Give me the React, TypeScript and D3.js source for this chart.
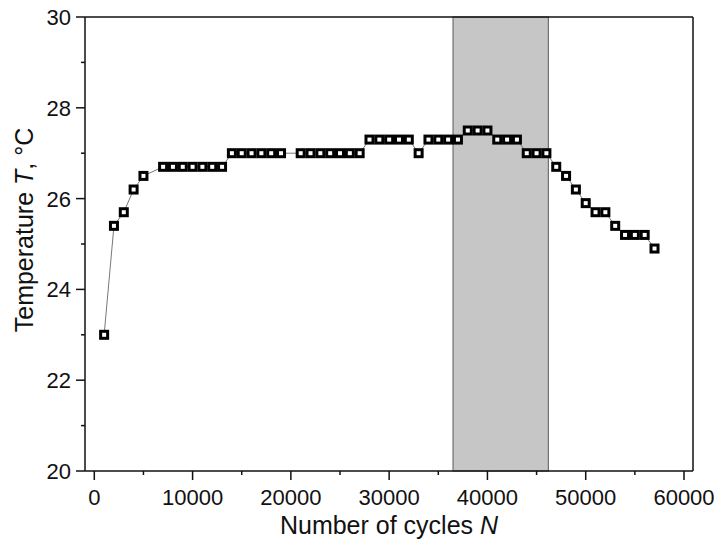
import React from "react";
import * as d3 from "d3";

const cycles: number[] = [
  1000, 2000, 3000, 4000, 5000,
  7000, 8000, 9000, 10000, 11000, 12000, 13000,
  14000, 15000, 16000, 17000, 18000, 19000,
  21000, 22000, 23000, 24000, 25000, 26000, 27000,
  28000, 29000, 30000, 31000, 32000,
  33000,
  34000, 35000, 36000, 37000,
  38000, 39000, 40000,
  41000, 42000, 43000,
  44000, 45000, 46000,
  47000, 48000, 49000, 50000, 51000, 52000, 53000,
  54000, 55000, 56000, 57000,
];
const temperature: number[] = [
  23.0, 25.4, 25.7, 26.2, 26.5,
  26.7, 26.7, 26.7, 26.7, 26.7, 26.7, 26.7,
  27.0, 27.0, 27.0, 27.0, 27.0, 27.0,
  27.0, 27.0, 27.0, 27.0, 27.0, 27.0, 27.0,
  27.3, 27.3, 27.3, 27.3, 27.3,
  27.0,
  27.3, 27.3, 27.3, 27.3,
  27.5, 27.5, 27.5,
  27.3, 27.3, 27.3,
  27.0, 27.0, 27.0,
  26.7, 26.5, 26.2, 25.9, 25.7, 25.7, 25.4,
  25.2, 25.2, 25.2, 24.9,
];
const shadedRange: [number, number] = [36500, 46200];
const xTicks: number[] = [0, 10000, 20000, 30000, 40000, 50000, 60000];
const xMinorTicks: number[] = [5000, 15000, 25000, 35000, 45000, 55000];
const yTicks: number[] = [20, 22, 24, 26, 28, 30];
const yMinorTicks: number[] = [21, 23, 25, 27, 29];

const W = 717;
const H = 554;
const left = 85;
const right = 693;
const top = 17;
const bottom = 471;
const font = "Arial, 'Liberation Sans', sans-serif";

export default function App() {
  const x = d3.scaleLinear().domain([0, 60000]).range([94.3, 684]);
  const y = d3.scaleLinear().domain([20, 30]).range([bottom, top]);
  const data = cycles.map((c, i) => ({ c, t: temperature[i] }));
  const line = d3
    .line<{ c: number; t: number }>()
    .x((d) => x(d.c))
    .y((d) => y(d.t));

  return (
    <svg
      width={W}
      height={H}
      style={{ position: "absolute", left: 0, top: 0, background: "#fff" }}
      fontFamily={font}
    >
      <rect x={0} y={0} width={W} height={H} fill="#fff" />
      <rect
        x={x(shadedRange[0])}
        y={top}
        width={x(shadedRange[1]) - x(shadedRange[0])}
        height={bottom - top}
        fill="#c6c6c6"
        stroke="#707070"
        strokeWidth={1.2}
      />
      {/* frame */}
      <line x1={left} x2={right} y1={top} y2={top} stroke="#111" strokeWidth={1.5} />
      <line x1={right} x2={right} y1={top} y2={bottom} stroke="#111" strokeWidth={1.5} />
      <line x1={left} x2={left} y1={top} y2={bottom} stroke="#111" strokeWidth={1.5} />
      <line x1={left} x2={right} y1={bottom} y2={bottom} stroke="#111" strokeWidth={1.5} />
      {/* y ticks */}
      {yTicks.map((t) => (
        <g key={"yt" + t}>
          <line x1={left - 9} x2={left} y1={y(t)} y2={y(t)} stroke="#111" strokeWidth={1.5} />
          <text x={left - 14} y={y(t)} dy="0.36em" textAnchor="end" fontSize={22} fill="#111">
            {t}
          </text>
        </g>
      ))}
      {yMinorTicks.map((t) => (
        <line key={"ym" + t} x1={left - 4} x2={left} y1={y(t)} y2={y(t)} stroke="#111" strokeWidth={1.5} />
      ))}
      {/* x ticks */}
      {xTicks.map((t) => (
        <g key={"xt" + t}>
          <line x1={x(t)} x2={x(t)} y1={bottom} y2={bottom + 9} stroke="#111" strokeWidth={1.5} />
          <text x={x(t)} y={bottom + 26} dy="0.36em" textAnchor="middle" fontSize={22} fill="#111">
            {t}
          </text>
        </g>
      ))}
      {xMinorTicks.map((t) => (
        <line key={"xm" + t} x1={x(t)} x2={x(t)} y1={bottom} y2={bottom + 4} stroke="#111" strokeWidth={1.5} />
      ))}
      {/* axis titles */}
      <text
        x={(left + right) / 2}
        y={534}
        textAnchor="middle"
        fontSize={25}
        fill="#111"
      >
        Number of cycles <tspan fontStyle="italic">N</tspan>
      </text>
      <text
        transform={`translate(33, 230) rotate(-90)`}
        textAnchor="middle"
        fontSize={25}
        fill="#111"
      >
        Temperature <tspan fontStyle="italic">T</tspan>, °C
      </text>
      {/* data line */}
      <path d={line(data) || ""} fill="none" stroke="#777" strokeWidth={1} />
      {data.map((d, i) => (
        <rect
          key={"p" + i}
          x={x(d.c) - 3.5}
          y={y(d.t) - 3.5}
          width={7}
          height={7}
          fill="#fff"
          stroke="#000"
          strokeWidth={3}
        />
      ))}
    </svg>
  );
}
